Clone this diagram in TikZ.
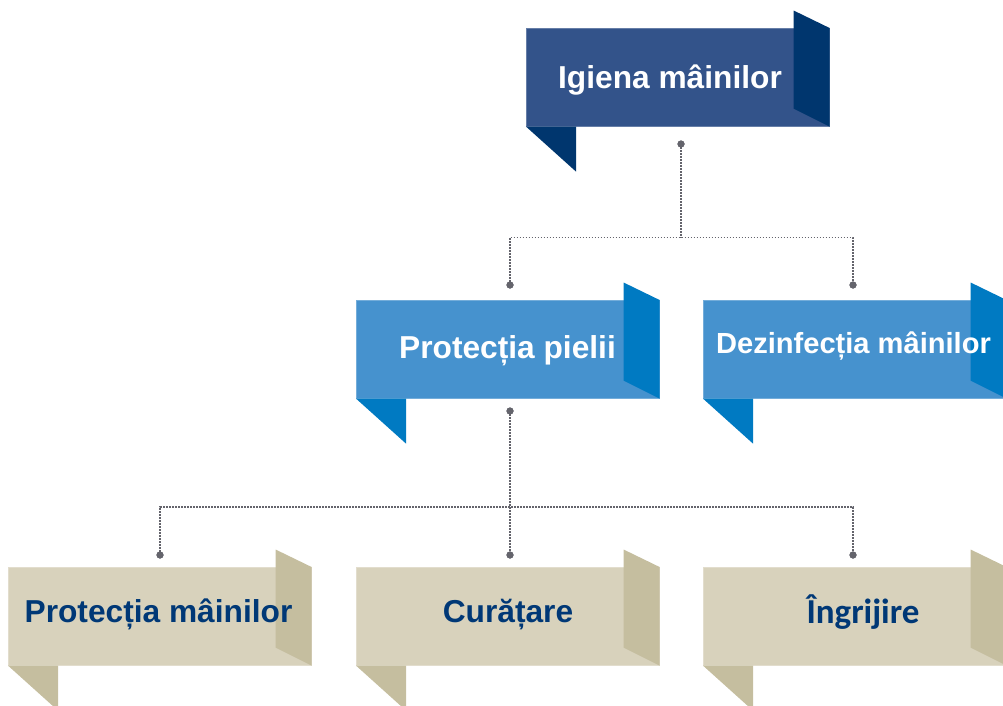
\documentclass[tikz,border=0pt]{standalone}
\usepackage{fontspec}
\setmainfont{Liberation Sans}
\newfontfamily\carlitofont{Carlito}
\definecolor{topmain}{RGB}{51,83,138}
\definecolor{topflap}{RGB}{0,54,110}
\definecolor{midmain}{RGB}{70,146,206}
\definecolor{midflap}{RGB}{0,122,194}
\definecolor{lowmain}{RGB}{216,210,188}
\definecolor{lowflap}{RGB}{197,190,159}
\definecolor{navytext}{RGB}{0,56,118}
\definecolor{conngray}{RGB}{100,100,108}
\tikzset{
  ribbonbox/.style={rectangle, inner sep=0pt, minimum width=303pt, minimum height=98pt, anchor=north west},
  lighttext/.style={text=white, font=\bfseries\fontsize{31.7}{36}\selectfont, anchor=base, inner sep=0pt},
  darktext/.style={text=navytext, font=\bfseries\fontsize{31.7}{36}\selectfont, anchor=base, inner sep=0pt},
  conn/.style={conngray, line width=1.8pt, dash pattern=on 1.6pt off 1.4pt},
  conndot/.style={circle, fill=conngray, inner sep=0pt, minimum size=7pt},
}
\newcommand\mkribbon[4]{%
  \node[ribbonbox, fill=#4main, draw=#4main!75!white, line width=0.6pt] (#1) at (#2,#3) {};
  \fill[#4flap] (#1.north east) ++(-36,0) -- ++(0,-17.5) -- (#1.north east) -- (#1.south east) -- ++(-36,-18) -- cycle;
  \fill[#4flap] (#1.south west) -- ++(50,0) -- ++(0,45) -- cycle;
}
\begin{document}
\begin{tikzpicture}[x=1pt,y=-1pt]
\useasboundingbox (0,0) rectangle (1003,705);
\clip (0,0) rectangle (1003,705);
% connectors
\node[conndot] (d0) at (681,144) {};
\node[conndot] (d1) at (510,285) {};
\node[conndot] (d2) at (853,285) {};
\node[conndot] (d3) at (510,411) {};
\node[conndot] (d4) at (160,555) {};
\node[conndot] (d5) at (510,555) {};
\node[conndot] (d6) at (853,555) {};
\draw[conn] (d0.center) -- ++(0,93.5) coordinate (j0);
\draw[conn] (d1.center) |- (j0) -| (d2.center);
\draw[conn] (d3.center) -- ++(0,96) coordinate (j1);
\draw[conn] (d4.center) |- (j1) -| (d6.center);
\draw[conn] (j1) -- (d5.center);
\foreach \d in {d0,d1,d2,d3,d4,d5,d6} {\fill[conngray] (\d.center) circle (3.6);}
% ribbons
\mkribbon{b0}{526}{28}{top}
\mkribbon{b1}{356}{300}{mid}
\mkribbon{b2}{703}{300}{mid}
\mkribbon{b3}{8}{567}{low}
\mkribbon{b4}{356}{567}{low}
\mkribbon{b5}{703}{567}{low}
% texts
\node[lighttext] (t0) at (670,88) {Igiena mâinilor};
\node[lighttext] (t1) at (507.5,358) {Protecția pielii};
\node[lighttext, font=\bfseries\fontsize{29.1}{34}\selectfont] (t2) at (853.5,353.5) {Dezinfecția mâinilor};
\node[darktext] (t3) at (158.5,622) {Protecția mâinilor};
\node[darktext] (t4) at (508,622) {Curățare};
\node[darktext, font=\carlitofont\bfseries\fontsize{35}{40}\selectfont] (t5) at (863,623) {Îngrijire};
\end{tikzpicture}
\end{document}
